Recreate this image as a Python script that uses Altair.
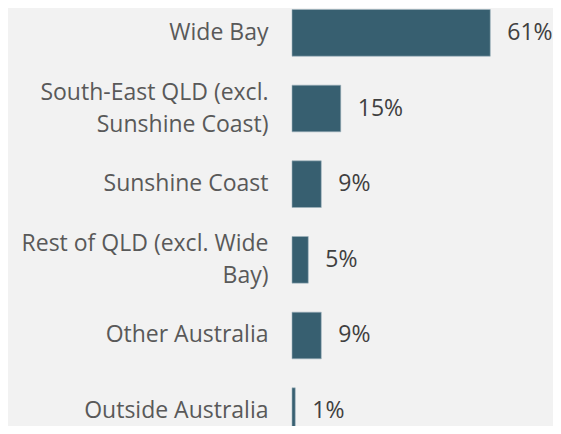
import altair as alt
import pandas as pd

categories = [
    "Wide Bay",
    "South-East QLD (excl.|Sunshine Coast)",
    "Sunshine Coast",
    "Rest of QLD (excl. Wide|Bay)",
    "Other Australia",
    "Outside Australia",
]
values = [61, 15, 9, 5, 9, 1]

df = pd.DataFrame({"region": categories, "share": values})
df["label"] = df["share"].astype(str) + "%"

FONT = "Open Sans"

y = alt.Y(
    "region:N",
    sort=categories,
    scale=alt.Scale(paddingInner=0.383, paddingOuter=0.02),
    axis=alt.Axis(
        title=None,
        ticks=False,
        domain=False,
        grid=False,
        labelExpr="split(datum.label, '|')",
        labelFont=FONT,
        labelFontSize=23,
        labelColor="#595959",
        labelPadding=24,
        labelLineHeight=32,
        labelLimit=400,
        labelAlign="right",
        labelBaseline="middle",
        labelOffset={"expr": "indexof(datum.value, '|') >= 0 ? -16 : 0"},
    ),
)

x = alt.X(
    "share:Q",
    scale=alt.Scale(domain=[0, 80.3], nice=False, zero=True),
    axis=None,
)

bars = alt.Chart(df).mark_bar(color="#375f70", stroke="#9fb3bd", strokeWidth=0.6).encode(y=y, x=x)

text = alt.Chart(df).mark_text(
    align="left", baseline="middle", dx=17, font=FONT, fontSize=23, color="#404040"
).encode(y=alt.Y("region:N", sort=categories), x="share:Q", text="label:N")

chart = (
    alt.layer(bars, text)
    .properties(
        width=261,
        height=428,
        autosize=alt.AutoSizeParams(type="none"),
        padding={"left": 284, "top": 0, "right": 0, "bottom": -10},
        background="#f2f2f2",
    )
    .configure_view(stroke=None)
)

chart.save("out.html", embed_options={"renderer": "svg", "actions": False})
